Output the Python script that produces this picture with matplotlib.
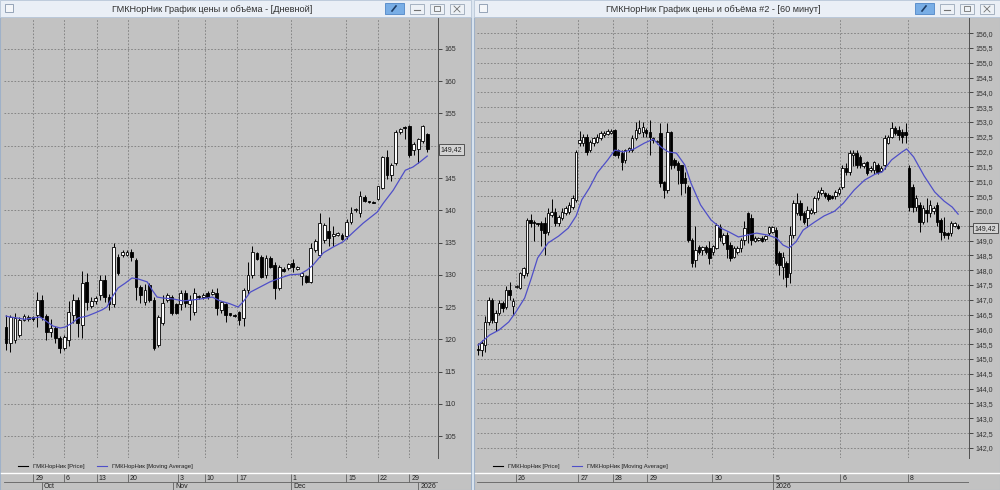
import numpy as np
import matplotlib
matplotlib.use('Agg')
import matplotlib.pyplot as plt
from matplotlib.patches import Rectangle

plt.rcParams['font.family'] = ['Liberation Sans', 'DejaVu Sans']

# ---------------- daily window (left) ----------------
d_open = [121.9, 119.4, 119.9, 120.7, 123.0, 123.1, 123.4, 123.8, 126.1, 123.6,
          121.1, 121.7, 120.2, 118.6, 119.9, 123.8, 126.1, 122.2, 128.9, 125.2,
          125.9, 126.8, 129.2, 126.6, 125.4, 132.8, 133.0, 133.1, 133.6, 132.3,
          128.1, 125.8, 128.4, 126.1, 119.1, 122.6, 126.1, 126.6, 125.4, 125.4,
          127.2, 125.4, 124.2, 126.7, 126.5, 127.2, 127.0, 127.2, 124.5, 125.4,
          124.0, 123.8, 124.2, 123.3, 127.6, 130.0, 133.3, 132.8, 129.9, 132.6,
          131.5, 127.9, 130.9, 131.0, 131.9, 130.9, 129.8, 129.8, 128.9, 133.8,
          133.1, 135.4, 136.8, 136.0, 136.2, 136.2, 136.0, 138.2, 140.0, 139.5,
          142.0, 141.4, 141.3, 141.8, 143.5, 148.3, 145.5, 147.3, 152.2, 152.9,
          153.0, 149.3, 149.5, 150.7, 151.8]
d_high = [123.8, 123.8, 124.0, 123.5, 123.9, 123.7, 123.6, 127.3, 126.8, 123.9,
          123.2, 122.0, 120.5, 120.6, 126.0, 127.0, 126.6, 130.6, 130.2, 126.5,
          126.7, 130.0, 130.0, 127.0, 134.9, 133.2, 133.9, 133.8, 134.0, 132.6,
          128.4, 128.6, 128.7, 126.5, 123.8, 126.9, 127.2, 126.9, 125.6, 127.6,
          127.6, 126.9, 128.0, 126.9, 127.1, 127.5, 127.8, 128.0, 126.0, 125.6,
          124.1, 123.9, 124.4, 128.0, 132.0, 134.5, 133.6, 133.0, 133.0, 132.9,
          132.0, 131.5, 131.2, 131.8, 132.4, 131.4, 130.5, 130.0, 135.0, 135.6,
          139.5, 138.0, 139.0, 137.5, 136.6, 136.4, 138.6, 140.5, 140.3, 143.0,
          142.3, 141.5, 141.4, 143.8, 148.4, 149.3, 147.4, 152.4, 152.8, 153.1,
          153.2, 150.6, 151.2, 153.2, 152.0]
d_low = [118.3, 118.0, 119.5, 120.3, 122.8, 122.9, 122.9, 121.9, 123.0, 119.9,
         120.3, 119.5, 117.9, 118.3, 119.0, 122.6, 120.3, 120.2, 124.5, 124.8,
         125.5, 126.1, 125.8, 124.6, 125.0, 130.0, 132.7, 132.9, 132.2, 126.1,
         125.6, 125.3, 125.8, 118.3, 118.8, 122.2, 125.8, 123.8, 123.9, 124.5,
         125.0, 123.0, 123.8, 126.3, 126.3, 126.3, 126.8, 123.8, 124.0, 122.7,
         123.6, 123.5, 122.2, 122.0, 127.0, 129.5, 132.3, 129.5, 129.5, 131.0,
         126.3, 127.6, 130.5, 130.8, 130.5, 130.7, 128.4, 128.7, 128.8, 133.5,
         132.8, 135.0, 134.5, 134.5, 136.0, 135.4, 135.6, 137.9, 139.8, 138.9,
         141.3, 141.2, 141.1, 141.6, 143.3, 144.8, 144.6, 147.0, 151.8, 151.0,
         148.2, 148.6, 147.4, 150.5, 149.0]
d_close = [119.4, 123.4, 123.3, 123.0, 123.6, 123.5, 123.1, 126.1, 123.4, 121.1,
           121.7, 120.2, 118.6, 120.3, 124.2, 126.1, 122.5, 128.7, 125.8, 126.0,
           126.4, 129.2, 126.6, 125.4, 134.3, 130.3, 133.6, 133.5, 132.8, 128.1,
           126.9, 127.6, 126.1, 118.6, 123.4, 125.6, 126.9, 124.1, 124.1, 127.2,
           125.6, 126.1, 127.2, 126.5, 126.9, 126.6, 127.4, 124.8, 125.8, 123.8,
           123.7, 123.6, 123.0, 127.6, 130.0, 133.5, 132.5, 129.7, 132.6, 131.2,
           127.9, 131.2, 130.6, 131.6, 131.2, 131.2, 130.3, 128.9, 134.2, 135.3,
           138.0, 137.7, 135.7, 136.3, 136.4, 135.6, 138.2, 139.5, 140.2, 142.2,
           141.5, 141.3, 141.2, 143.7, 148.3, 145.5, 147.0, 152.1, 152.6, 152.7,
           148.5, 150.2, 151.0, 153.0, 149.42]
d_ma_idx = [0, 0.9, 2.5, 4.2, 6.0, 7.6, 9.2, 10.5, 12.1, 13.2, 14.7, 16.1, 18.1, 19.9,
            21.4, 22.5, 23.7, 25.0, 26.6, 28.1, 29.5, 31.5, 32.6, 33.7, 35.0, 37.3,
            39.5, 41.7, 44.9, 46.0, 47.8, 50.0, 51.8, 52.9, 54.5, 56.7, 58.9, 61.2,
            63.4, 65.6, 67.2, 68.5, 70.8, 73.0, 75.2, 77.5, 79.7, 82.8, 84.2, 86.4,
            89.1, 90.8, 92.4, 94.0]
d_ma_val = [123.6, 123.45, 123.3, 123.1, 123.3, 123.45, 122.7, 122.05, 121.75, 121.9,
            122.5, 123.3, 123.6, 124.1, 124.55, 125.0, 126.55, 127.95, 128.7, 129.5,
            129.35, 128.9, 127.65, 126.55, 126.4, 126.25, 125.95, 126.1, 126.4, 126.55,
            125.95, 125.5, 125.0, 125.8, 127.3, 128.1, 128.9, 129.5, 130.0, 130.1,
            130.75, 131.5, 133.4, 134.3, 135.1, 136.6, 138.0, 139.7, 141.1, 143.1,
            146.2, 146.7, 147.5, 148.4]
d_tick_pos = [6.1, 12.9, 20.3, 27.2, 38.4, 44.4, 51.6, 63.6, 75.9, 83.0, 90.0]
d_tick_lbl = ['29', '6', '13', '20', '3', '10', '17', '1', '15', '22', '29']
d_month_pos = [8.0, 37.3, 63.6, 92.0]
d_month_lbl = ['Oct', 'Nov', 'Dec', '2026']
d_yticks = list(range(105, 170, 5))

# ---------------- hourly window (right) ----------------
h_open = [145.35, 145.30, 145.47, 146.25, 146.99, 146.25, 146.55, 146.89, 146.76, 147.33,
          146.80, 147.43, 147.40, 147.84, 147.90, 149.69, 149.60, 149.57, 149.59, 149.59,
          149.30, 149.86, 149.96, 149.59, 149.76, 149.93, 149.96, 150.13, 150.37, 152.29,
          152.29, 152.49, 152.05, 152.29, 152.32, 152.46, 152.56, 152.60, 152.63, 152.73,
          152.05, 151.95, 151.72, 152.05, 152.05, 152.46, 152.63, 152.66, 152.73, 152.66,
          152.46, 152.32, 152.63, 150.97, 150.70, 152.66, 151.72, 151.61, 151.55, 151.11,
          150.80, 149.02, 148.34, 148.78, 148.68, 148.78, 148.75, 148.60, 148.75, 149.45,
          148.90, 149.20, 148.85, 148.44, 148.60, 148.75, 149.02, 149.93, 149.76, 149.00,
          149.02, 149.10, 149.05, 149.25, 149.30, 149.35, 148.58, 148.11, 148.24, 147.90,
          149.19, 149.93, 150.26, 149.93, 149.76, 149.93, 149.96, 150.43, 150.60, 150.60,
          150.55, 150.50, 150.50, 150.60, 150.80, 151.45, 151.31, 151.88, 151.95, 151.82,
          151.50, 151.65, 151.38, 151.38, 151.55, 151.35, 151.55, 152.30, 152.49, 152.79,
          152.73, 152.66, 152.66, 151.45, 150.80, 150.13, 150.20, 149.62, 150.03, 149.93,
          150.00, 150.20, 149.69, 149.29, 149.25, 149.25, 149.50, 149.50]
h_high = [145.55, 145.64, 146.45, 147.09, 147.05, 146.65, 147.00, 146.95, 147.45, 147.60,
          147.05, 147.50, 147.95, 148.10, 149.75, 149.90, 149.70, 149.60, 149.65, 149.80,
          150.10, 150.40, 150.10, 149.85, 150.10, 150.15, 150.30, 150.55, 152.05, 152.70,
          152.60, 152.60, 152.40, 152.50, 152.60, 152.70, 152.68, 152.75, 152.75, 152.75,
          152.10, 152.05, 152.10, 152.15, 152.56, 153.00, 153.06, 153.00, 152.80, 153.06,
          152.50, 152.40, 152.95, 151.00, 152.95, 152.70, 151.80, 151.70, 151.55, 151.30,
          150.87, 149.10, 149.50, 148.85, 148.82, 148.85, 149.00, 148.85, 149.60, 149.55,
          149.25, 149.30, 148.95, 148.80, 148.80, 149.10, 149.65, 149.95, 149.90, 149.15,
          149.12, 149.15, 149.20, 149.50, 149.50, 149.45, 148.65, 148.60, 148.30, 149.50,
          150.37, 150.60, 150.37, 149.98, 150.15, 150.10, 150.50, 150.70, 150.80, 150.65,
          150.60, 150.55, 150.70, 150.80, 151.55, 151.60, 152.05, 152.05, 152.05, 151.90,
          151.65, 151.70, 151.50, 151.70, 151.60, 151.50, 152.56, 152.55, 153.00, 152.85,
          152.85, 152.75, 152.95, 151.55, 150.90, 150.53, 150.30, 150.20, 150.45, 150.37,
          150.15, 150.30, 149.76, 149.80, 149.30, 149.65, 149.62, 149.55]
h_low = [145.14, 145.10, 145.25, 146.15, 146.20, 145.95, 146.50, 146.60, 146.70, 146.99,
         146.50, 147.40, 147.35, 147.75, 147.80, 149.45, 149.00, 149.50, 148.80, 148.50,
         149.20, 149.80, 149.50, 149.50, 149.70, 149.85, 149.90, 150.05, 150.30, 152.20,
         152.20, 151.90, 152.00, 152.20, 152.30, 152.40, 152.50, 152.55, 152.60, 151.85,
         151.80, 151.38, 151.60, 152.00, 152.00, 152.40, 152.60, 152.50, 152.50, 151.88,
         152.30, 152.25, 150.80, 150.43, 150.60, 151.40, 151.45, 150.90, 150.53, 150.60,
         148.95, 148.10, 148.11, 148.55, 148.50, 148.55, 148.20, 148.50, 148.70, 149.00,
         148.85, 148.40, 148.30, 148.40, 148.55, 148.60, 148.85, 148.90, 148.85, 148.95,
         148.98, 148.95, 149.00, 149.20, 149.25, 148.17, 147.84, 147.70, 147.43, 147.55,
         149.10, 149.86, 149.69, 149.55, 149.45, 149.90, 149.90, 150.37, 150.55, 150.45,
         150.35, 150.40, 150.40, 150.55, 150.75, 151.20, 151.20, 151.50, 151.45, 151.45,
         151.45, 151.20, 151.30, 151.25, 151.25, 151.30, 151.40, 152.25, 152.46, 152.55,
         152.40, 152.30, 152.30, 150.00, 149.95, 150.00, 149.30, 149.55, 149.62, 149.80,
         149.90, 149.50, 149.02, 149.10, 149.05, 149.15, 149.45, 149.40]
h_close = [145.30, 145.54, 146.25, 146.99, 146.32, 146.55, 146.89, 146.72, 147.33, 147.16,
           146.95, 147.45, 147.90, 148.07, 149.69, 149.60, 149.58, 149.55, 149.35, 149.25,
           149.93, 149.96, 149.59, 149.79, 149.96, 150.10, 150.20, 150.45, 152.00, 152.39,
           152.49, 151.99, 152.32, 152.46, 152.49, 152.63, 152.63, 152.70, 152.70, 151.89,
           151.88, 151.65, 152.05, 152.12, 152.46, 152.73, 152.79, 152.82, 152.63, 152.49,
           152.39, 152.35, 150.94, 150.70, 152.66, 151.55, 151.55, 151.38, 150.94, 150.94,
           149.02, 148.24, 148.68, 148.61, 148.78, 148.61, 148.41, 148.80, 149.52, 149.12,
           149.20, 148.70, 148.41, 148.75, 148.75, 149.02, 149.42, 149.25, 149.02, 149.10,
           149.08, 149.00, 149.15, 149.45, 149.45, 148.24, 148.17, 148.44, 147.77, 149.19,
           150.27, 150.26, 149.86, 149.62, 150.03, 150.03, 150.43, 150.64, 150.70, 150.50,
           150.40, 150.45, 150.64, 150.75, 151.45, 151.31, 151.95, 151.95, 151.55, 151.55,
           151.60, 151.28, 151.45, 151.65, 151.31, 151.45, 152.46, 152.49, 152.79, 152.63,
           152.56, 152.49, 152.56, 150.13, 150.13, 150.43, 149.62, 150.10, 149.93, 150.20,
           150.10, 149.62, 149.28, 149.18, 149.18, 149.59, 149.59, 149.42]
h_ma_idx = [0, 3.3, 6, 8.75, 10.8, 13.3, 15.2, 17, 20, 23, 25.75, 28, 29.6, 31.75, 34,
            37, 39, 41.6, 44.5, 47.5, 50, 52.25, 54.3, 56.6, 59, 60.75, 63.5, 66.5,
            69.25, 71.6, 74.3, 76.7, 79.5, 82.8, 85.25, 87, 88.75, 90.7, 92.75, 96,
            98.75, 101.75, 104.25, 107.3, 110.3, 113.3, 115.3, 118, 121, 122.3, 124.3,
            127.3, 130.3, 133, 135.3, 137]
h_ma_val = [145.47, 145.81, 145.98, 146.25, 146.59, 147.06, 147.73, 148.41, 148.92, 149.15,
            149.42, 149.83, 150.37, 150.77, 151.28, 151.72, 152.05, 151.99, 152.09, 152.29,
            152.42, 152.15, 151.99, 151.95, 151.55, 150.94, 150.20, 149.69, 149.42, 149.29,
            149.12, 149.18, 149.25, 149.18, 149.08, 148.85, 148.75, 148.95, 149.35, 149.62,
            149.83, 149.99, 150.26, 150.70, 151.04, 151.24, 151.31, 151.72, 151.99, 152.09,
            151.82, 151.18, 150.64, 150.33, 150.13, 149.89]
h_tick_pos = [10.7, 28.6, 38.5, 48.3, 66.9, 84.3, 103.3, 122.7]
h_tick_lbl = ['26', '27', '28', '29', '30', '5', '6', '8']
h_month_pos = [84.3]
h_month_lbl = ['2026']
h_yticks = np.arange(142.0, 156.01, 0.5)

last_price = 149.42
titles = ['ГМКНорНик График цены и объёма - [Дневной]',
          'ГМКНорНик График цены и объёма #2 - [60 минут]']
legend_lbl = ['ГМКНорНик [Price]', 'ГМКНорНик [Moving Average]']

PANEL = '#c2c2c2'
FRAME = '#dce6f1'
MA_COL = '#4f4fc8'
GRID = '#7c7c7c'
W, H = 1000, 490


def frac(x0, y0, x1, y1):
    return [x0 / W, 1 - y1 / H, (x1 - x0) / W, (y1 - y0) / H]


fig = plt.figure(figsize=(10, 4.9), dpi=100)
fig.patch.set_facecolor(FRAME)

# window chrome drawn in pixel units
bg = fig.add_axes([0, 0, 1, 1], zorder=0)
bg.set_xlim(0, W)
bg.set_ylim(H, 0)
bg.axis('off')

windows = [(0, 471, 212, 385), (474, 1000, 713, 915)]
for (wx0, wx1, tx, bx), title in zip(windows, titles):
    bg.add_patch(Rectangle((wx0, 17), wx1 - wx0, H - 17, fc=PANEL, ec='#9fb1c8', lw=0.8))
    bg.add_patch(Rectangle((wx0, 0), wx1 - wx0, 17, fc='#eaeff6', ec='#b9c7d8', lw=0.6))
    bg.text(tx, 9, title, ha='center', va='center', fontsize=6.6, color='#303030')
    # window icon
    bg.add_patch(Rectangle((wx0 + 5, 4), 8, 8, fc='#f4f6f9', ec='#8898ad', lw=0.6))
    # pin button + min / restore / close
    bg.add_patch(Rectangle((bx, 3), 19, 11, fc='#79aee6', ec='#4f86c6', lw=0.6))
    bg.plot([bx + 7, bx + 11], [11, 6], color='#1f3d66', lw=1.2)
    for k in range(3):
        x = bx + 25 + k * 20
        bg.add_patch(Rectangle((x, 4), 14, 10, fc='#edf1f6', ec='#9aa8b8', lw=0.6))
        if k == 0:
            bg.plot([x + 4, x + 10], [10, 10], color='#707070', lw=0.8)
        elif k == 1:
            bg.add_patch(Rectangle((x + 4, 6), 6, 5, fc='none', ec='#707070', lw=0.6))
        else:
            bg.plot([x + 4, x + 10], [6, 12], color='#707070', lw=0.6)
            bg.plot([x + 4, x + 10], [12, 6], color='#707070', lw=0.6)
    # white separator above date scale
    bg.plot([wx0 + 1, wx1 - 1], [473, 473], color='white', lw=1.0)

# legends under the plots
for lx in (18, 493):
    bg.plot([lx, lx + 10], [466, 466], color='black', lw=0.8)
    bg.text(lx + 15, 466, legend_lbl[0], fontsize=4.3, va='center', color='#202020')
    bg.plot([lx + 79, lx + 89], [466, 466], color=MA_COL, lw=0.8)
    bg.text(lx + 94, 466, legend_lbl[1], fontsize=4.3, va='center', color='#202020')


def candles(ax, o, h, l, c, width, min_h):
    o, h, l, c = map(np.asarray, (o, h, l, c))
    idx = np.arange(len(o))
    ax.vlines(idx, l, h, color='black', lw=0.7, zorder=3)
    up = c >= o
    bottom = np.minimum(o, c)
    height = np.maximum(np.abs(c - o), min_h)
    ax.bar(idx[up], height[up], width, bottom=bottom[up], color='white',
           edgecolor='black', linewidth=0.6, zorder=4)
    ax.bar(idx[~up], height[~up], width, bottom=bottom[~up], color='black',
           edgecolor='black', linewidth=0.6, zorder=4)


def price_panel(box, xlim, ylim, yticks, fmt, o, h, l, c, ma_i, ma_v,
                tick_pos, width, min_h, box_dx, hide_near):
    ax = fig.add_axes(frac(*box), zorder=2)
    ax.set_facecolor(PANEL)
    ax.set_xlim(*xlim)
    ax.set_ylim(*ylim)
    for s in ('top', 'left', 'bottom'):
        ax.spines[s].set_visible(False)
    ax.spines['right'].set_color('#505050')
    ax.spines['right'].set_linewidth(0.7)
    ax.yaxis.tick_right()
    ax.set_yticks(yticks)
    # the label hidden behind the last-price box is left blank
    ax.set_yticklabels(['' if abs(v - last_price) < hide_near else fmt(v) for v in yticks])
    ax.tick_params(axis='y', direction='out', length=3, width=0.6,
                   colors='#303030', labelsize=5, pad=2)
    ax.set_xticks(tick_pos)
    ax.tick_params(axis='x', length=0, labelbottom=False)
    ax.grid(True, ls=(0, (2, 2)), lw=0.6, color=GRID)
    ax.set_axisbelow(True)
    candles(ax, o, h, l, c, width, min_h)
    ax.plot(ma_i, ma_v, color=MA_COL, lw=0.9, zorder=5)
    ax.annotate(f'{last_price:.2f}'.replace('.', ','), xy=(1.0, last_price),
                xycoords=('axes fraction', 'data'), xytext=(box_dx, 0),
                textcoords='offset points', ha='left', va='center', fontsize=5,
                color='#202020', annotation_clip=False, zorder=10,
                bbox=dict(boxstyle='square,pad=0.25', fc='#d4d4d4', ec='#404040', lw=0.6))
    return ax


def date_scale(box, xlim, tick_pos, tick_lbl, month_pos, month_lbl):
    ax = fig.add_axes(frac(*box), zorder=2)
    ax.set_facecolor(PANEL)
    ax.set_xlim(*xlim)
    ax.set_ylim(0, 1)
    ax.axis('off')
    ax.axhline(0.5, color='#606060', lw=0.6)
    ax.vlines(tick_pos, 0.5, 1.0, color='#606060', lw=0.6)
    for p, t in zip(tick_pos, tick_lbl):
        ax.text(p + 0.6 * (xlim[1] - xlim[0]) / 140, 0.74, t, fontsize=5,
                va='center', ha='left', color='#202020')
    ax.vlines(month_pos, 0.0, 0.5, color='#606060', lw=0.6)
    for p, t in zip(month_pos, month_lbl):
        ax.text(p + 0.6 * (xlim[1] - xlim[0]) / 140, 0.25, t, fontsize=5,
                va='center', ha='left', color='#202020')
    return ax


fmt_d = lambda v: f'{v:.0f}'
fmt_h = lambda v: f'{v:.1f}'.replace('.', ',')

d_xlim = (-0.45, 96.4)
h_xlim = (-0.3, 140.1)

price_panel((4, 18, 438, 458), d_xlim, (101.6, 169.8), d_yticks, fmt_d,
            d_open, d_high, d_low, d_close, d_ma_idx, d_ma_val,
            d_tick_pos, 0.62, 0.15, 2, 1.0)
price_panel((477, 18, 969, 458), h_xlim, (141.66, 156.51), h_yticks, fmt_h,
            h_open, h_high, h_low, h_close, h_ma_idx, h_ma_val,
            h_tick_pos, 0.7, 0.03, 4, 0.2)

date_scale((4, 474, 438, 490), d_xlim, d_tick_pos, d_tick_lbl, d_month_pos, d_month_lbl)
date_scale((477, 474, 969, 490), h_xlim, h_tick_pos, h_tick_lbl, h_month_pos, h_month_lbl)

plt.savefig('out.png', dpi=100, facecolor=fig.get_facecolor())
